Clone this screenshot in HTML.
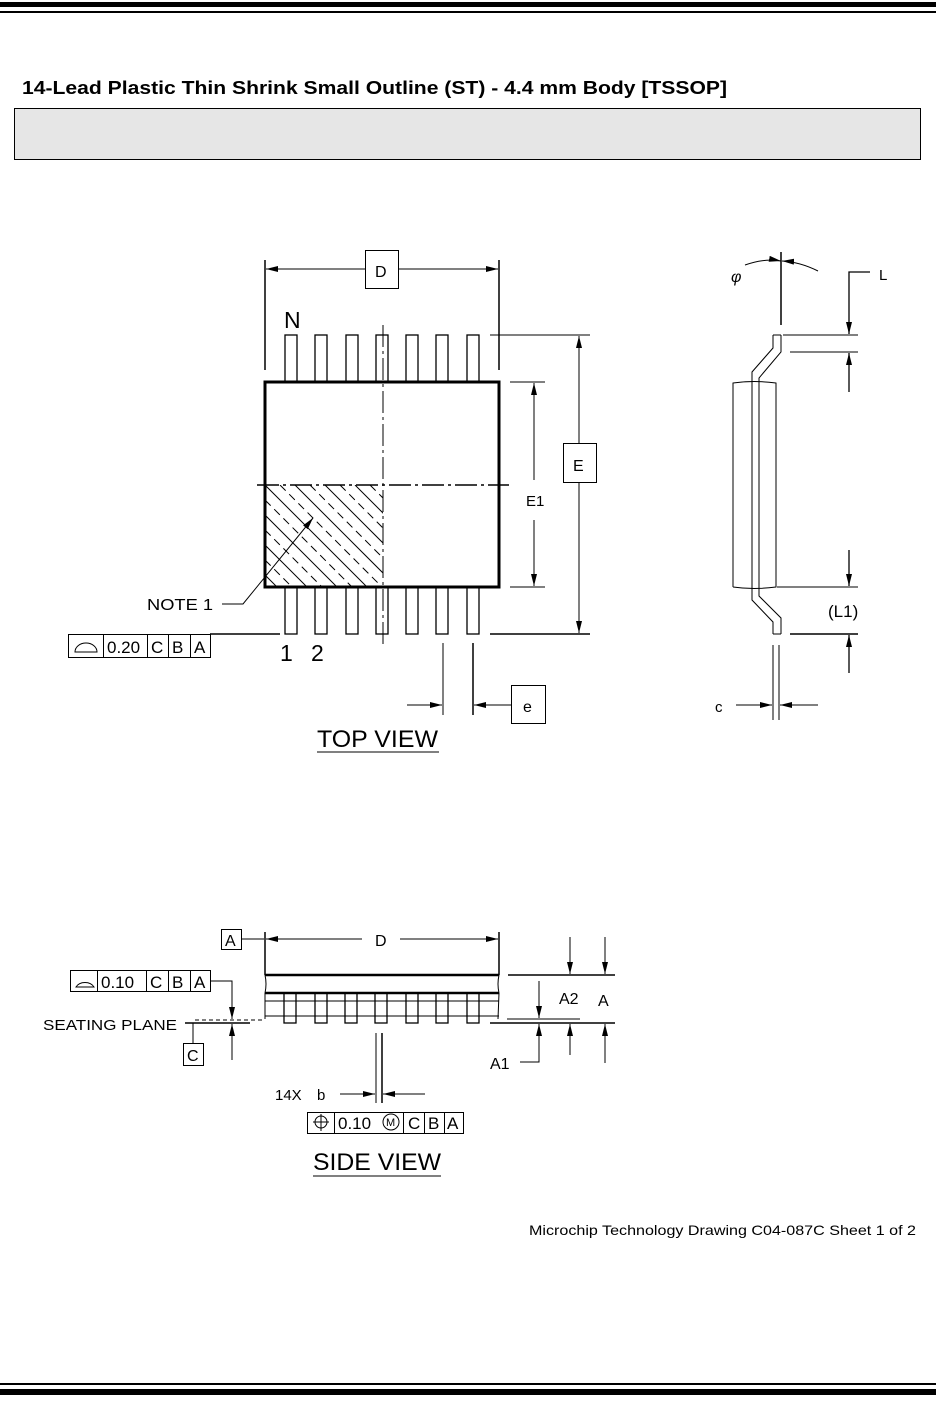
<!DOCTYPE html>
<html><head><meta charset="utf-8"><style>
html,body{margin:0;padding:0;background:#fff}
svg{display:block}
text{font-family:"Liberation Sans",sans-serif;fill:#000}
</style></head><body>
<svg width="936" height="1411" viewBox="0 0 936 1411" xmlns="http://www.w3.org/2000/svg">
<defs>
<marker id="ar" viewBox="0 0 12 6" refX="12" refY="3" markerWidth="12" markerHeight="6" orient="auto" markerUnits="userSpaceOnUse"><path d="M0,0 L12,3 L0,6 z" fill="#000"/></marker>
<clipPath id="hc"><rect x="265" y="485" width="118" height="102"/></clipPath>
</defs>
<rect x="0" y="2" width="936" height="5" fill="#000"/>
<rect x="0" y="11" width="936" height="2" fill="#000"/>
<rect x="0" y="1383" width="936" height="2" fill="#000"/>
<rect x="0" y="1389" width="936" height="6" fill="#000"/>
<text x="22" y="94" font-size="18" font-weight="bold" textLength="705" lengthAdjust="spacingAndGlyphs">14-Lead Plastic Thin Shrink Small Outline (ST) - 4.4 mm Body [TSSOP]</text>
<rect x="14.5" y="108.5" width="906" height="51" fill="#e6e6e6" stroke="#000" stroke-width="1"/>

<g stroke="#000" fill="none" stroke-width="1">
<g clip-path="url(#hc)" stroke-width="1">
<line x1="265" y1="485" x2="385" y2="605"/><line x1="265" y1="515" x2="365" y2="615"/><line x1="265" y1="545" x2="345" y2="625"/><line x1="265" y1="575" x2="325" y2="635"/>
<line x1="295" y1="485" x2="415" y2="605"/><line x1="325" y1="485" x2="445" y2="605"/><line x1="355" y1="485" x2="475" y2="605"/>
<g stroke-dasharray="8,5">
<line x1="265" y1="500" x2="375" y2="610"/><line x1="265" y1="530" x2="355" y2="620"/><line x1="265" y1="560" x2="335" y2="630"/>
<line x1="280" y1="485" x2="400" y2="605"/><line x1="310" y1="485" x2="430" y2="605"/><line x1="340" y1="485" x2="460" y2="605"/><line x1="370" y1="485" x2="490" y2="605"/>
</g></g>
<g stroke-width="1.3">
<rect x="285" y="335" width="12" height="47"/><rect x="315" y="335" width="12" height="47"/><rect x="346" y="335" width="12" height="47"/><rect x="376" y="335" width="12" height="47"/><rect x="406" y="335" width="12" height="47"/><rect x="436" y="335" width="12" height="47"/><rect x="467" y="335" width="12" height="47"/>
<rect x="285" y="587" width="12" height="47"/><rect x="315" y="587" width="12" height="47"/><rect x="346" y="587" width="12" height="47"/><rect x="376" y="587" width="12" height="47"/><rect x="406" y="587" width="12" height="47"/><rect x="436" y="587" width="12" height="47"/><rect x="467" y="587" width="12" height="47"/>
</g>
<rect x="265" y="382" width="234" height="205" stroke-width="3"/>
<line x1="383" y1="325" x2="383" y2="646" stroke-dasharray="22,4,3,4"/>
<line x1="257" y1="485" x2="509" y2="485" stroke-dasharray="22,4,3,4" stroke-width="1.5"/>
<line x1="265" y1="260" x2="265" y2="370" stroke-width="1.5"/><line x1="499" y1="260" x2="499" y2="370" stroke-width="1.5"/>
<line x1="365" y1="269" x2="266" y2="269" marker-end="url(#ar)"/><line x1="398" y1="269" x2="498" y2="269" marker-end="url(#ar)"/>
<rect x="365.5" y="250.5" width="33" height="38"/>
<line x1="490" y1="335" x2="590" y2="335"/><line x1="490" y1="634" x2="590" y2="634" stroke-width="1.5"/>
<line x1="579" y1="443" x2="579" y2="336" marker-end="url(#ar)"/><line x1="579" y1="482" x2="579" y2="633" marker-end="url(#ar)"/>
<rect x="563.5" y="443.5" width="33" height="39"/>
<line x1="510" y1="382" x2="545" y2="382"/><line x1="510" y1="587" x2="545" y2="587"/>
<line x1="534" y1="480" x2="534" y2="383" marker-end="url(#ar)"/><line x1="534" y1="520" x2="534" y2="586" marker-end="url(#ar)"/>
<polyline points="222,604 243,604 313,518" marker-end="url(#ar)"/>
<line x1="210" y1="634" x2="280" y2="634" stroke-width="1.5"/>
<rect x="68.5" y="634.5" width="142" height="23"/>
<line x1="103.5" y1="634" x2="103.5" y2="657"/><line x1="147.5" y1="634" x2="147.5" y2="657"/><line x1="168.5" y1="634" x2="168.5" y2="657"/><line x1="190.5" y1="634" x2="190.5" y2="657"/>
<path d="M75,652 A11,9 0 0 1 97,652 Z"/>
<line x1="443" y1="643" x2="443" y2="715"/><line x1="473" y1="643" x2="473" y2="715" stroke-width="1.5"/>
<line x1="407" y1="705" x2="442" y2="705" marker-end="url(#ar)"/><line x1="511" y1="705" x2="474" y2="705" marker-end="url(#ar)"/>
<rect x="511.5" y="685.5" width="34" height="38"/>
<line x1="317" y1="752" x2="439" y2="752"/>

<path d="M733,587 L733,383 Q754,380 776,383 L776,587 Q754,590 733,587"/>
<path d="M773,335 L773,348 L752,372 L752,600 L773,622 L773,634"/>
<path d="M781,335 L781,352 L759,378 L759,596 L781,618 L781,634"/>
<line x1="773" y1="335" x2="781" y2="335"/><line x1="773" y1="634" x2="781" y2="634"/>
<line x1="781" y1="252" x2="781" y2="325" stroke-width="1.5"/>
<path d="M745,265 Q765,258 781,261" marker-end="url(#ar)"/>
<path d="M818,271 Q800,262 782,261" marker-end="url(#ar)"/>
<line x1="783" y1="335" x2="858" y2="335"/><line x1="790" y1="352" x2="858" y2="352"/>
<polyline points="870,272 849,272 849,334" marker-end="url(#ar)" stroke-width="1.3"/>
<line x1="849" y1="392" x2="849" y2="353" marker-end="url(#ar)" stroke-width="1.3"/>
<line x1="777" y1="587" x2="858" y2="587"/><line x1="790" y1="634" x2="858" y2="634" stroke-width="1.5"/>
<line x1="849" y1="550" x2="849" y2="586" marker-end="url(#ar)" stroke-width="1.3"/>
<line x1="849" y1="673" x2="849" y2="635" marker-end="url(#ar)" stroke-width="1.3"/>
<line x1="773" y1="645" x2="773" y2="720"/><line x1="779" y1="645" x2="779" y2="720"/>
<line x1="736" y1="705" x2="772" y2="705" marker-end="url(#ar)"/><line x1="818" y1="705" x2="780" y2="705" marker-end="url(#ar)"/>

<line x1="265" y1="932" x2="265" y2="975" stroke-width="1.5"/><line x1="499" y1="932" x2="499" y2="975" stroke-width="1.5"/>
<line x1="241" y1="939" x2="264" y2="939"/>
<line x1="362" y1="939" x2="266" y2="939" marker-end="url(#ar)"/><line x1="400" y1="939" x2="498" y2="939" marker-end="url(#ar)"/>
<rect x="221.5" y="929.5" width="20" height="20"/>
<line x1="265" y1="975" x2="499" y2="975" stroke-width="2.5"/>
<path d="M265,975 Q267,984 265,993 M499,975 Q497,984 499,993"/>
<line x1="265" y1="993" x2="499" y2="993" stroke-width="2.5"/>
<line x1="265" y1="1001" x2="499" y2="1001"/>
<path d="M265,993 L265,1019 M499,993 L498,1019"/>
<g stroke-width="1.3">
<rect x="284" y="993" width="12" height="30"/><rect x="315" y="993" width="12" height="30"/><rect x="345" y="993" width="12" height="30"/><rect x="375" y="993" width="12" height="30"/><rect x="406" y="993" width="12" height="30"/><rect x="436" y="993" width="12" height="30"/><rect x="467" y="993" width="12" height="30"/>
</g>
<line x1="265" y1="1016" x2="499" y2="1016"/>
<line x1="195" y1="1020" x2="265" y2="1020" stroke-dasharray="4,3"/>
<line x1="185" y1="1023" x2="250" y2="1023" stroke-width="1.5"/>
<line x1="193" y1="1023" x2="193" y2="1043"/>
<rect x="183.5" y="1043.5" width="20" height="22"/>
<polyline points="210,981 232,981 232,1019" marker-end="url(#ar)"/>
<line x1="232" y1="1060" x2="232" y2="1024" marker-end="url(#ar)"/>
<rect x="70.5" y="970.5" width="140" height="21"/>
<line x1="97.5" y1="970" x2="97.5" y2="991"/><line x1="146.5" y1="970" x2="146.5" y2="991"/><line x1="168.5" y1="970" x2="168.5" y2="991"/><line x1="190.5" y1="970" x2="190.5" y2="991"/>
<path d="M76,987 A10,8 0 0 1 94,987 Z"/>
<line x1="508" y1="975" x2="615" y2="975" stroke-width="1.5"/>
<line x1="507" y1="1019" x2="580" y2="1019"/>
<line x1="490" y1="1023" x2="615" y2="1023" stroke-width="1.5"/>
<line x1="570" y1="937" x2="570" y2="974" marker-end="url(#ar)"/><line x1="605" y1="937" x2="605" y2="974" marker-end="url(#ar)"/>
<line x1="539" y1="981" x2="539" y2="1018" marker-end="url(#ar)"/>
<polyline points="520,1062 539,1062 539,1024" marker-end="url(#ar)"/>
<line x1="570" y1="1055" x2="570" y2="1024" marker-end="url(#ar)"/><line x1="605" y1="1063" x2="605" y2="1024" marker-end="url(#ar)"/>
<line x1="376" y1="1033" x2="376" y2="1103"/><line x1="382" y1="1033" x2="382" y2="1103" stroke-width="1.5"/>
<line x1="340" y1="1094" x2="375" y2="1094" marker-end="url(#ar)"/><line x1="425" y1="1094" x2="383" y2="1094" marker-end="url(#ar)"/>
<rect x="307.5" y="1112.5" width="156" height="21"/>
<line x1="334.5" y1="1112" x2="334.5" y2="1133"/><line x1="403.5" y1="1112" x2="403.5" y2="1133"/><line x1="424.5" y1="1112" x2="424.5" y2="1133"/><line x1="444.5" y1="1112" x2="444.5" y2="1133"/>
<circle cx="321" cy="1122" r="6"/><line x1="321" y1="1114" x2="321" y2="1131"/><line x1="313" y1="1122" x2="329" y2="1122"/>
<circle cx="391" cy="1122" r="8"/>
<line x1="313" y1="1176" x2="441" y2="1176"/>
</g>

<text x="375" y="277" font-size="16">D</text>
<text x="573" y="471" font-size="16">E</text>
<text x="526" y="506" font-size="15">E1</text>
<text x="284" y="328" font-size="23">N</text>
<text x="280" y="661" font-size="23">1</text>
<text x="311" y="661" font-size="23">2</text>
<text x="147" y="610" font-size="16" textLength="66" lengthAdjust="spacingAndGlyphs">NOTE 1</text>
<text x="107" y="653" font-size="17">0.20</text>
<text x="151" y="653" font-size="17">C</text>
<text x="172" y="653" font-size="17">B</text>
<text x="194" y="653" font-size="17">A</text>
<text x="523" y="712" font-size="16">e</text>
<text x="317" y="747" font-size="24" textLength="121" lengthAdjust="spacingAndGlyphs">TOP VIEW</text>
<text x="731" y="282" font-size="16" font-style="italic">φ</text>
<text x="879" y="280" font-size="15">L</text>
<text x="828" y="617" font-size="17">(L1)</text>
<text x="715" y="712" font-size="15">c</text>
<text x="375" y="946" font-size="16">D</text>
<text x="225" y="946" font-size="16">A</text>
<text x="101" y="988" font-size="17">0.10</text>
<text x="150" y="988" font-size="17">C</text>
<text x="172" y="988" font-size="17">B</text>
<text x="194" y="988" font-size="17">A</text>
<text x="43" y="1030" font-size="15" textLength="134" lengthAdjust="spacingAndGlyphs">SEATING  PLANE</text>
<text x="187" y="1061" font-size="16">C</text>
<text x="559" y="1004" font-size="16">A2</text>
<text x="598" y="1006" font-size="16">A</text>
<text x="490" y="1069" font-size="16">A1</text>
<text x="275" y="1100" font-size="15">14X</text>
<text x="317" y="1100" font-size="15">b</text>
<text x="338" y="1129" font-size="17">0.10</text>
<text x="386" y="1126" font-size="11">M</text>
<text x="408" y="1129" font-size="17">C</text>
<text x="428" y="1129" font-size="17">B</text>
<text x="447" y="1129" font-size="17">A</text>
<text x="313" y="1170" font-size="24" textLength="128" lengthAdjust="spacingAndGlyphs">SIDE VIEW</text>
<text x="529" y="1235" font-size="14" textLength="387" lengthAdjust="spacingAndGlyphs">Microchip Technology Drawing  C04-087C Sheet 1 of 2</text>
</svg>
</body></html>
